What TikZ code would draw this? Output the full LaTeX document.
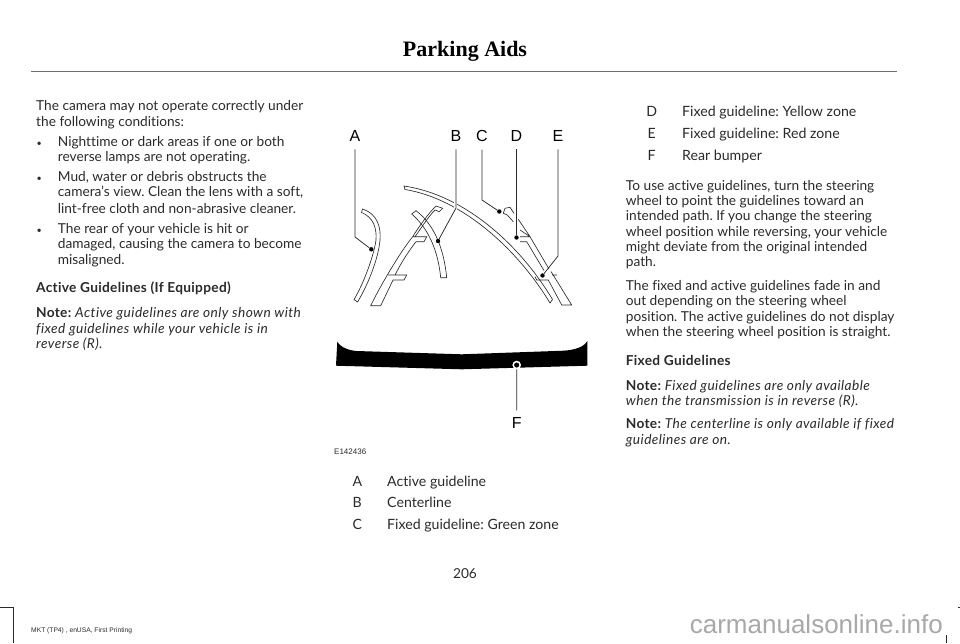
\documentclass[tikz,border=0pt]{standalone}
\usepackage{fontspec}
\setmainfont{Lato}[Ligatures=NoCommon,ItalicFeatures={LetterSpace=3.2},BoldFeatures={LetterSpace=2.2}]
\newfontfamily\headfont{Liberation Serif}
\newfontfamily\markfont{Liberation Sans}
\usetikzlibrary{positioning}
\frenchspacing
\definecolor{inkgray}{HTML}{2B2A2B}
\definecolor{rulegray}{HTML}{6E6E6E}
\definecolor{stampgray}{HTML}{A8A8A8}
\tikzstyle{body}=[anchor=base west,inner sep=0pt,text=inkgray,font=\fontsize{13.7}{15}\selectfont]
\tikzstyle{keytext}=[body,font=\fontsize{14.15}{15}\selectfont]
\tikzstyle{callout}=[anchor=base,inner sep=0pt,text=black,font=\markfont\fontsize{16}{18}\selectfont]
\tikzstyle{strip}=[draw=inkgray,line width=.65pt,line join=miter]
\tikzstyle{leader}=[draw=inkgray,line width=.75pt]
\tikzstyle{pin}=[circle,fill=black,inner sep=0pt,minimum size=4.4pt]

\begin{document}
\begin{tikzpicture}[x=1pt,y=-1pt]
  \useasboundingbox (0,0) rectangle (960,643);
  % header and trim marks
  \node[anchor=base,inner sep=0pt,text=black,font=\headfont\bfseries\fontsize{22}{24}\selectfont] (title) at (465,56.7) {Parking Aids};
  \coordinate (ruleL) at (31,71);
  \coordinate (ruleR) at (897,71);
  \draw[rulegray,line width=1pt] (ruleL) -- (ruleR);
  \draw[inkgray,line width=.6pt] (0,607) -- (13.3,607) -- (13.3,643);
  \draw[inkgray,line width=.6pt] (946.7,635) -- (946.7,643);
  \draw[inkgray,line width=.6pt] (958,607) -- (960,607);
  % left column
  \foreach \ypos/\xpos/\txt in {110.7/36/The camera may not operate correctly under,
    126/36/the following conditions:,
    146/57.7/Nighttime or dark areas if one or both,
    161.7/57.7/reverse lamps are not operating.,
    181.3/57.7/{Mud, water or debris obstructs the},
    196.7/57.7/{camera's view. Clean the lens with a soft,},
    213/57.7/lint-free cloth and non-abrasive cleaner.,
    233/57.7/The rear of your vehicle is hit or,
    248.7/57.7/{damaged, causing the camera to become},
    264/57.7/misaligned.,
    333/36/\textit{fixed guidelines while your vehicle is in},
    348.7/36/\textit{reverse (R).}}
    \node[body] (left\ypos) at (\xpos,\ypos) {\txt};
  \foreach \ypos in {146,181.3,233}
    \node[body,font=\fontsize{9}{9}\selectfont] (bullet\ypos) at (36.5,\ypos) {•};
  \node[body] (activehead) at (36,292.3) {\textbf{Active Guidelines (If Equipped)}};
  \node[body] (activenote) at (36,317.7) {\textbf{Note:} \textit{Active guidelines are only shown with}};
  % key under the picture
  \foreach \ypos/\letter/\txt in {486/A/Active guideline,507.7/B/Centerline,529.7/C/Fixed guideline: Green zone} {
    \node[keytext,anchor=base] (key\letter) at (357.3,\ypos) {\letter};
    \node[keytext] (val\letter) at (387,\ypos) {\txt};
  }
  \foreach \ypos/\letter/\txt in {116.7/D/Fixed guideline: Yellow zone,138.3/E/Fixed guideline: Red zone,160.3/F/Rear bumper} {
    \node[keytext,anchor=base] (key\letter) at (651.7,\ypos) {\letter};
    \node[keytext] (val\letter) at (682,\ypos) {\txt};
  }
  % right column
  \foreach \ypos/\txt in {190/{To use active guidelines, turn the steering},
    205.3/wheel to point the guidelines toward an,
    220.7/intended path. If you change the steering,
    236/{wheel position while reversing, your vehicle},
    251.7/might deviate from the original intended,
    266.7/path.,
    290/The fixed and active guidelines fade in and,
    305.3/out depending on the steering wheel,
    321/position. The active guidelines do not display,
    336.7/when the steering wheel position is straight.,
    365/\textbf{Fixed Guidelines},
    390.3/\textbf{Note:} \textit{Fixed guidelines are only available},
    405.7/\textit{when the transmission is in reverse (R).},
    428.3/\textbf{Note:} \textit{The centerline is only available if fixed},
    444/\textit{guidelines are on.}}
    \node[body] (right\ypos) at (625.7,\ypos) {\txt};
  % footer
  \node[body,font=\markfont\fontsize{8}{9}\selectfont] (code) at (334,454.3) {E142436};
  \node[body,font=\markfont\fontsize{6.7}{8}\selectfont] (footer) at (31,632.7) {MKT (TP4) , enUSA, First Printing};
  \node[body,anchor=base] (page) at (465,578.5) {206};
  \node[body,anchor=base east,text=stampgray,font=\markfont\fontsize{26}{28}\selectfont] (stamp) at (943,633.3) {carmanualsonline.info};
  % guideline strips
  \path[strip] (361.5,212.5) -- (362.5,209) .. controls (378,214) and (381,228) .. (380,240)
    .. controls (378.5,258) and (368,285) .. (357.5,302) -- (354,299.5)
    .. controls (364,283) and (374,255) .. (376,240) .. controls (377,228) and (373,217) .. (361.5,212.5) -- cycle;
  \path[strip] (404,186) .. controls (465,195) and (520,245) .. (552.5,299.5) -- (550,303)
    .. controls (518,250) and (463,199) .. (405,189.5) -- cycle;
  \draw[white,line width=3.5pt] (455.5,202) -- (455.5,212);
  \path[strip] (370.7,305.7) .. controls (378,290) and (400,252) .. (412.7,236.7)
    .. controls (420,225) and (428,214) .. (436,206) -- (442.7,208.3) -- (439.3,211.7) -- (435,210)
    .. controls (428,217) and (422,227) .. (415,236.7) -- (426.7,236.7) -- (424,241.7) -- (416,241.7)
    .. controls (408,252) and (401,263) .. (395,275) -- (406.7,275) -- (404,280) -- (393,280)
    -- (380.7,305.7) -- cycle (412.7,236.7) -- (415,236.7) (388.3,275) -- (395,275);
  \path[strip] (411.7,214) -- (416,210.7) .. controls (435,225) and (444,250) .. (446.7,277.7)
    -- (440.7,277.7) .. controls (438,250) and (428,228) .. (411.7,214) -- cycle;
  % right guide
  \path[strip] (503.3,213.3) -- (505,208.3) -- (510,207.3) -- (514,213.3)
    (503.3,213.3) -- (507.3,215) -- (513.3,221.7);
  \path[strip] (518.3,219.3) -- (530,236.7) -- (520,236.7) (520,230) -- (530,236.7)
    (530,236.7) -- (549,269) (520,241.7) -- (526.7,241.7) -- (544,270.5);
  \path[strip] (552,275) -- (557,275) (551,271.5) -- (571.7,305) -- (561.7,305) -- (548.3,280) -- (536.7,280) -- (535,276.7);
  % bumper
  \fill[black] (337.3,341.7) .. controls (341,348) and (350,350.5) .. (356.7,351) -- (461.7,354.3) -- (563.3,350.7)
    .. controls (575,350) and (584,347) .. (587.3,341) -- (587.3,365.7) -- (461.7,369.3) -- (336,365.7) -- cycle;
  % callouts
  \foreach \letter/\xpos in {A/355,B/456,C/482,D/516.5,E/558}
    \node[callout] (call\letter) at (\xpos,141.7) {\letter};
  \node[callout] (callF) at (516.8,428.5) {F};
  \node[pin] (pinA) at (371.3,249.3) {};
  \node[pin] (pinB) at (438,241) {};
  \node[pin] (pinC) at (499.3,211.5) {};
  \node[pin] (pinD) at (516.5,237.5) {};
  \node[pin] (pinE) at (542.5,275.5) {};
  \node[circle,fill=black,draw=white,line width=1.5pt,inner sep=0pt,minimum size=7pt] (pinF) at (516.7,365) {};
  \draw[leader] (callA.south) ++(0,7.5) -- (355,237) -- (pinA);
  \draw[leader] (callB.south) ++(0,7.5) -- (456,208) -- (pinB);
  \draw[leader] (callC.south) ++(0,7.5) -- (482,200) -- (pinC);
  \draw[leader] (callD.south) ++(0,7.5) -- (pinD);
  \draw[leader] (callE.south) ++(0,7.5) -- (558,256) -- (pinE);
  \draw[leader] (pinF) -- ([yshift=7pt]callF.north);
\end{tikzpicture}
\end{document}
